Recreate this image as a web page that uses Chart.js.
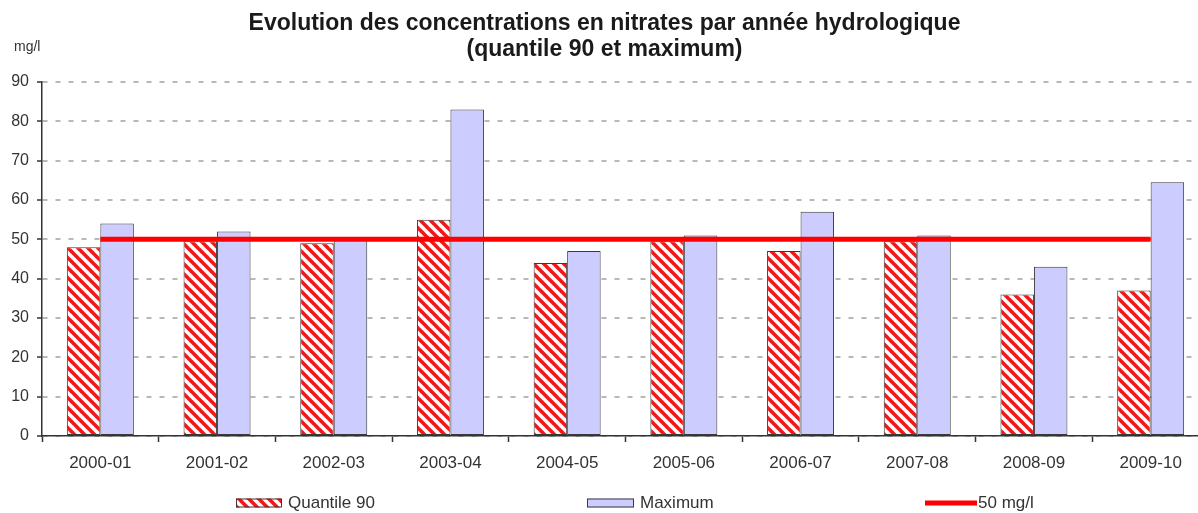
<!DOCTYPE html>
<html lang="fr">
<head>
<meta charset="utf-8">
<title>Nitrates par année hydrologique</title>
<style>
  html, body { margin: 0; padding: 0; background: #fff; overflow: hidden; }
  #wrap { width: 1198px; height: 513px; overflow: hidden; }
</style>
</head>
<body>
<div id="wrap"><canvas id="nitrates" width="1220" height="513"></canvas></div>
<script src="https://cdn.jsdelivr.net/npm/chart.js@4.4.1/dist/chart.umd.min.js"></script>
<script>
  var annees = ['2000-01', '2001-02', '2002-03', '2003-04', '2004-05',
                '2005-06', '2006-07', '2007-08', '2008-09', '2009-10'];
  var quantile90 = [48, 49.5, 49, 55, 44, 49.5, 47, 49.5, 36, 37];
  var maximum = [54, 52, 50, 83, 47, 51, 57, 51, 43, 64.5];
  var seuil = 50;
  var yTicks = [0, 10, 20, 30, 40, 50, 60, 70, 80, 90];

  var police = "'Liberation Sans', Arial, sans-serif";

  // red / white diagonal hatching for the quantile bars
  function hachures() {
    var n = 10;
    var c = document.createElement('canvas');
    c.width = n;
    c.height = n;
    var g = c.getContext('2d');
    g.fillStyle = '#ffffff';
    g.fillRect(0, 0, n, n);
    g.strokeStyle = '#f01818';
    g.lineWidth = 3.6;
    for (var k = -1; k <= 1; k++) {
      g.beginPath();
      g.moveTo(k * n - 2, -2);
      g.lineTo(k * n + n + 2, n + 2);
      g.stroke();
    }
    return g.createPattern(c, 'repeat');
  }
  var motif = hachures();

  // unit label above the y axis
  var uniteY = {
    id: 'uniteY',
    afterDraw: function(chart) {
      var ctx = chart.ctx;
      ctx.save();
      ctx.font = '14px ' + police;
      ctx.fillStyle = '#333';
      ctx.textBaseline = 'middle';
      ctx.fillText('mg/l', 14, 47);
      ctx.restore();
    }
  };

  // legend row under the axis, items spread like the office chart
  var legendePos = [
    { x: 236, w: 46 },
    { x: 587, w: 47 },
    { x: 925, w: 52 }
  ];
  var legendeBas = {
    id: 'legendeBas',
    afterDraw: function(chart) {
      var ctx = chart.ctx;
      var y = 503;
      ctx.save();
      ctx.font = '17px ' + police;
      ctx.textBaseline = 'middle';
      chart.data.datasets.forEach(function(ds, i) {
        var p = legendePos[i];
        if (ds.type === 'line') {
          ctx.strokeStyle = ds.borderColor;
          ctx.lineWidth = ds.borderWidth;
          ctx.beginPath();
          ctx.moveTo(p.x, y);
          ctx.lineTo(p.x + p.w, y);
          ctx.stroke();
        } else {
          ctx.fillStyle = ds.backgroundColor;
          ctx.fillRect(p.x, y - 4.5, p.w, 9);
          ctx.strokeStyle = ds.borderColor;
          ctx.lineWidth = 1;
          ctx.strokeRect(p.x + 0.5, y - 4, p.w - 1, 8);
        }
        ctx.fillStyle = '#333';
        ctx.fillText(ds.label, p.x + p.w + (ds.type === 'line' ? 1 : 6), y);
      });
      ctx.restore();
    }
  };

  new Chart(document.getElementById('nitrates'), {
    type: 'bar',
    data: {
      labels: annees,
      datasets: [{
        label: 'Quantile 90',
        data: quantile90,
        backgroundColor: motif,
        borderColor: '#3a3a3a',
        borderWidth: 1,
        borderSkipped: false,
        categoryPercentage: 0.574,
        barPercentage: 1,
        order: 1
      }, {
        label: 'Maximum',
        data: maximum,
        backgroundColor: '#ccccff',
        borderColor: '#3a3a3a',
        borderWidth: 1,
        borderSkipped: false,
        categoryPercentage: 0.574,
        barPercentage: 1,
        order: 1
      }, {
        type: 'line',
        label: '50 mg/l',
        data: annees.map(function() { return seuil; }),
        borderColor: '#ff0000',
        borderWidth: 5,
        pointRadius: 0,
        fill: false,
        order: 0
      }]
    },
    options: {
      responsive: false,
      animation: false,
      layout: { padding: { left: 0, right: 11, top: 0, bottom: 0 } },
      plugins: {
        legend: { display: false },
        tooltip: { enabled: false },
        title: {
          display: true,
          text: ['Evolution des concentrations en nitrates par année hydrologique',
                 '(quantile 90 et maximum)'],
          color: '#1a1a1a',
          font: { family: police, size: 23, weight: 'bold', lineHeight: 1.13 },
          padding: { top: 11, bottom: 19 }
        }
      },
      scales: {
        x: {
          afterFit: function(s) { s.height = 77; },
          border: { display: true, color: '#333', width: 1.5 },
          grid: {
            display: true,
            drawOnChartArea: false,
            offset: true,
            tickLength: 6,
            tickColor: '#333',
            tickWidth: 1.5
          },
          ticks: {
            color: '#333',
            padding: 11,
            maxRotation: 0,
            font: { family: police, size: 17 }
          }
        },
        y: {
          min: 0,
          max: 90,
          afterFit: function(s) { s.width = 42; },
          afterBuildTicks: function(s) {
            s.ticks = yTicks.map(function(v) { return { value: v }; });
          },
          border: { display: true, color: '#333', width: 1.5, dash: [5, 8] },
          grid: {
            color: '#b8b8b8',
            lineWidth: 2,
            tickLength: 5,
            tickColor: '#333',
            tickWidth: 1.5,
            tickBorderDash: []
          },
          ticks: {
            color: '#333',
            padding: 8,
            font: { family: police, size: 16 }
          }
        }
      }
    },
    plugins: [uniteY, legendeBas]
  });
</script>
</body>
</html>
